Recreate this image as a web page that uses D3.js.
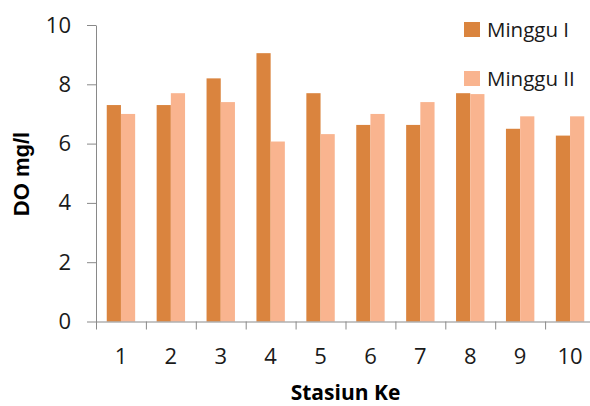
<!DOCTYPE html>
<html>
<head>
<meta charset="utf-8">
<script src="https://cdn.jsdelivr.net/npm/d3@7"></script>
<style>
  html, body { margin: 0; padding: 0; background: #fff; }
  svg { display: block; }
  .tick text { font-family: "Open Sans", sans-serif; font-size: 22px; fill: #1a1a1a; }
</style>
</head>
<body>
<svg id="chart" width="590" height="406"></svg>
<script>
// Dissolved oxygen per station, two sampling weeks
const stations = ["1", "2", "3", "4", "5", "6", "7", "8", "9", "10"];
const seriesNames = ["Minggu I", "Minggu II"];
const mingguI  = [7.3, 7.3, 8.2, 9.05, 7.7, 6.63, 6.63, 7.7, 6.5, 6.27];
const mingguII = [7.0, 7.7, 7.4, 6.07, 6.32, 7.0, 7.4, 7.67, 6.92, 6.92];
const yTicks = [0, 2, 4, 6, 8, 10];
const colors = ["#DA843E", "#F9B48F"];

const rows = stations.map((s, i) => ({ station: s, values: [mingguI[i], mingguII[i]] }));

const svg = d3.select("#chart");
const plotLeft = 96, plotRight = 595, plotTop = 25, plotBottom = 321.5;
const axisColor = "#898989";

const x = d3.scaleBand().domain(stations).range([plotLeft, plotRight]).padding(0);
const xBound = d3.scaleLinear().domain([0, stations.length]).range([plotLeft, plotRight]);
const inner = d3.scaleBand().domain(seriesNames)
  .range([10.75, x.bandwidth() - 10.75]).padding(0);
const y = d3.scaleLinear().domain([0, 10]).range([plotBottom, plotTop]);

// bars
const groups = svg.append("g").selectAll("g").data(rows).join("g")
  .attr("transform", d => `translate(${x(d.station)},0)`);
groups.selectAll("rect").data(d => d.values.map((v, k) => ({ v, k })))
  .join("rect")
  .attr("x", d => inner(seriesNames[d.k]))
  .attr("width", inner.bandwidth())
  .attr("y", d => y(d.v))
  .attr("height", d => y(0) - y(d.v))
  .attr("fill", d => colors[d.k]);

// y axis
const yAxis = svg.append("g").attr("transform", `translate(${plotLeft},0)`)
  .call(d3.axisLeft(y).tickValues(yTicks).tickSize(9).tickPadding(16).tickSizeOuter(0));
yAxis.selectAll("line, path").attr("stroke", axisColor);

// x axis: tick marks on category boundaries
const xAxis = svg.append("g").attr("transform", `translate(0,${plotBottom})`)
  .call(d3.axisBottom(xBound).tickValues(d3.range(0, stations.length + 1))
    .tickSize(8).tickSizeOuter(0).tickFormat(""));
xAxis.selectAll("line, path").attr("stroke", axisColor);

// x labels centred in each category
const xLabels = svg.append("g").attr("transform", `translate(0,${plotBottom})`)
  .call(d3.axisBottom(x).tickSize(0).tickPadding(27));
xLabels.select(".domain").remove();

// axis titles
svg.append("text")
  .attr("transform", "translate(28.5,174) rotate(-90)")
  .attr("text-anchor", "middle")
  .attr("font-family", "'Liberation Sans', Arial, sans-serif")
  .attr("font-weight", "bold")
  .attr("font-size", 22)
  .attr("fill", "#000")
  .text("DO mg/l");

svg.append("text")
  .attr("x", (plotLeft + plotRight) / 2)
  .attr("y", 400)
  .attr("text-anchor", "middle")
  .attr("font-family", "'Open Sans', sans-serif")
  .attr("font-weight", "bold")
  .attr("font-size", 21)
  .attr("fill", "#000")
  .text("Stasiun Ke");

// legend
const legend = svg.append("g").selectAll("g").data(seriesNames).join("g")
  .attr("transform", (d, i) => `translate(464,${22 + i * 49})`);
legend.append("rect").attr("width", 16).attr("height", 15)
  .attr("fill", (d, i) => colors[i]);
legend.append("text")
  .attr("x", 23).attr("y", 15)
  .attr("font-family", "'Open Sans', sans-serif")
  .attr("font-size", 20.5)
  .attr("fill", "#1a1a1a")
  .text(d => d);
</script>
</body>
</html>
